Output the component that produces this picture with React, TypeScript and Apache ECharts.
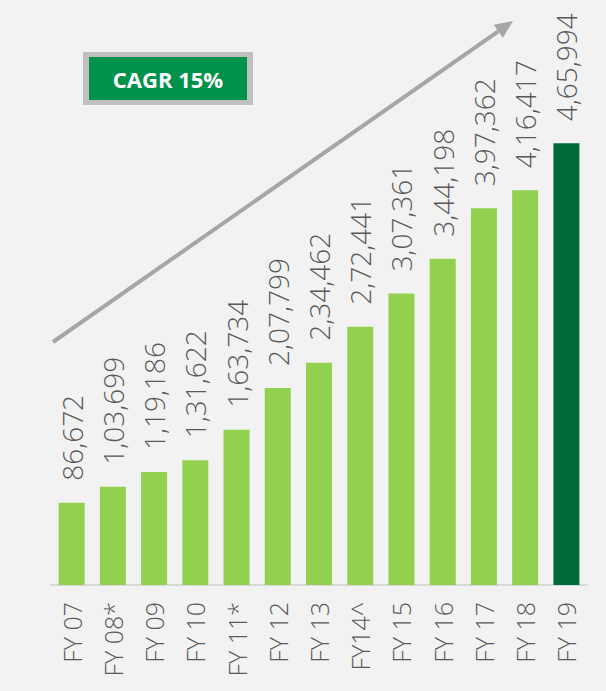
import React, { useEffect, useRef } from "react";
import * as echarts from "echarts";

const categories = ["FY 07", "FY 08*", "FY 09", "FY 10", "FY 11*", "FY 12", "FY 13", "FY14^", "FY 15", "FY 16", "FY 17", "FY 18", "FY 19"];
const values = [86672, 103699, 119186, 131622, 163734, 207799, 234462, 272441, 307361, 344198, 397362, 416417, 465994];
const cagrText = "CAGR 15%";

function indian(n: number): string {
  const s = String(Math.round(n));
  if (s.length <= 3) return s;
  const last3 = s.slice(-3);
  let rest = s.slice(0, -3);
  const parts: string[] = [];
  while (rest.length > 2) {
    parts.unshift(rest.slice(-2));
    rest = rest.slice(0, -2);
  }
  if (rest.length) parts.unshift(rest);
  return parts.join(",") + "," + last3;
}

export default function App() {
  const ref = useRef<HTMLDivElement>(null);
  useEffect(() => {
    document.body.style.margin = "0";
    const chart = echarts.init(ref.current!, null, { renderer: "svg" });
    const light = "#92D050";
    const dark = "#006B3A";
    const tip = [513, 21];
    const start = [53, 342];
    const dx = tip[0] - start[0];
    const dy = tip[1] - start[1];
    const len = Math.sqrt(dx * dx + dy * dy);
    const ux = dx / len, uy = dy / len;
    const hl = 18, hw = 8;
    const bx = tip[0] - hl * ux, by = tip[1] - hl * uy;
    chart.setOption({
      animation: false,
      backgroundColor: "#F2F2F2",
      grid: { left: 51, right: 19, top: 111, bottom: 106, containLabel: false },
      xAxis: {
        type: "category",
        data: categories,
        axisLine: { lineStyle: { color: "#D9D9D9", width: 2 } },
        axisTick: { show: false },
        axisLabel: {
          rotate: 90,
          margin: 17,
          color: "#595959",
          fontSize: 25,
          fontFamily: "Open Sans",
          fontWeight: 300,
          interval: 0,
        },
      },
      yAxis: {
        type: "value",
        min: 0,
        max: 500000,
        show: false,
        splitLine: { show: false },
      },
      series: [
        {
          type: "bar",
          barWidth: 26,
          data: values.map((v, i) => ({
            value: v,
            itemStyle: { color: i === values.length - 1 ? dark : light },
          })),
          label: {
            show: true,
            position: "top",
            rotate: 90,
            align: "left",
            verticalAlign: "middle",
            distance: 22,
            color: "#595959",
            fontSize: 28,
            fontFamily: "Open Sans",
            fontWeight: 300,
            formatter: (p: any) => indian(p.value),
          },
        },
      ],
      graphic: [
        {
          type: "line",
          shape: { x1: start[0], y1: start[1], x2: bx, y2: by },
          style: { stroke: "#A6A6A6", lineWidth: 4 },
        },
        {
          type: "polygon",
          shape: {
            points: [
              [tip[0], tip[1]],
              [bx - hw * uy, by + hw * ux],
              [bx + hw * uy, by - hw * ux],
            ],
          },
          style: { fill: "#A6A6A6" },
        },
        {
          type: "rect",
          shape: { x: 83, y: 52, width: 170, height: 53 },
          style: { fill: "#BFBFBF" },
        },
        {
          type: "rect",
          shape: { x: 89, y: 57, width: 158, height: 43 },
          style: { fill: "#00924A" },
        },
        {
          type: "text",
          x: 168,
          y: 79,
          style: {
            text: cagrText,
            fill: "#FFFFFF",
            font: "bold 22px 'Open Sans'",
            align: "center",
            verticalAlign: "middle",
          },
        },
      ],
    });
    return () => chart.dispose();
  }, []);
  return (
    <div
      ref={ref}
      style={{ position: "absolute", left: 0, top: 0, width: 606, height: 691 }}
    />
  );
}
